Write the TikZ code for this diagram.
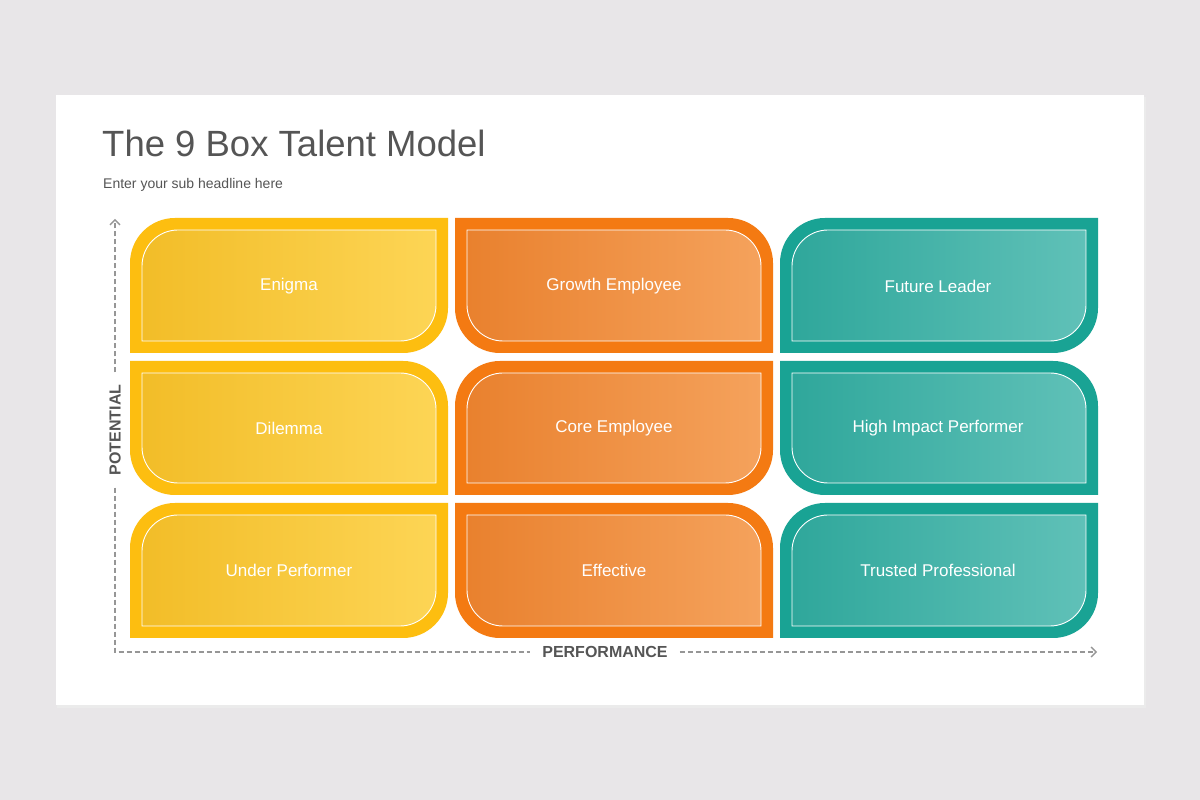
\documentclass[tikz,border=0pt]{standalone}
\usepackage{fontspec}
\setmainfont{Liberation Sans}
\usetikzlibrary{positioning,arrows.meta}
\definecolor{pagegray}{RGB}{232,230,232}
\definecolor{titlegray}{RGB}{85,85,85}
\definecolor{axisgray}{RGB}{150,150,150}
\definecolor{yelOut}{RGB}{253,190,16}
\definecolor{yelL}{RGB}{242,189,40}
\definecolor{yelR}{RGB}{253,213,85}
\definecolor{orOut}{RGB}{244,122,18}
\definecolor{orL}{RGB}{233,129,46}
\definecolor{orR}{RGB}{245,162,92}
\definecolor{teOut}{RGB}{25,163,148}
\definecolor{teL}{RGB}{47,167,155}
\definecolor{teR}{RGB}{96,193,184}

% corner shapes: A = top left and bottom right rounded, B = top right and bottom left rounded
\newcommand{\shapeA}[5]{(#1,#4-#5) arc[start angle=180,end angle=90,radius=#5] -- (#3,#4) -- (#3,#2+#5) arc[start angle=0,end angle=-90,radius=#5] -- (#1,#2) -- cycle}
\newcommand{\shapeB}[5]{(#1,#4) -- (#3-#5,#4) arc[start angle=90,end angle=0,radius=#5] -- (#3,#2) -- (#1+#5,#2) arc[start angle=270,end angle=180,radius=#5] -- cycle}
% \talentbox{A/B}{x1}{y1}{x2}{y2}{outer}{left}{right}
\newcommand{\talentbox}[8]{%
  \fill[#6] \csname shape#1\endcsname{#2}{#3}{#4}{#5}{45};
  \shade[left color=#7,right color=#8,draw=white,line width=0.9pt]
    \csname shape#1\endcsname{#2+12}{#3+12}{#4-12}{#5-12}{36};
}

\begin{document}
\begin{tikzpicture}[x=1pt,y=1pt,
    boxlabel/.style={text=white,font=\fontsize{17}{20}\selectfont},
    axislabel/.style={text=titlegray,inner sep=12pt,font=\fontsize{16}{19}\selectfont\bfseries},
    axisline/.style={axisgray,line width=1.3pt,dash pattern=on 5pt off 3pt},
    axistip/.style={-{Straight Barb[length=5pt,width=10pt]}}]
  % page and card
  \fill[pagegray] (0,0) rectangle (1200,800);
  \fill[black!8] (57,92) rectangle (1146,703);
  \fill[white] (56,95) rectangle (1144,705);

  % titles
  \node[anchor=base west,inner sep=0,text=titlegray,font=\fontsize{36.5}{44}\selectfont] (title) at (102,643) {The 9 Box Talent Model};
  \node[anchor=base west,inner sep=0,text=titlegray,font=\fontsize{14}{17}\selectfont] (sub) at (103,611) {Enter your sub headline here};

  % row 1
  \talentbox{A}{130}{447}{448}{582}{yelOut}{yelL}{yelR}
  \talentbox{B}{455}{447}{773}{582}{orOut}{orL}{orR}
  \talentbox{A}{780}{447}{1098}{582}{teOut}{teL}{teR}
  % row 2
  \talentbox{B}{130}{305}{448}{439}{yelOut}{yelL}{yelR}
  \talentbox{A}{455}{305}{773}{439}{orOut}{orL}{orR}
  \talentbox{B}{780}{305}{1098}{439}{teOut}{teL}{teR}
  % row 3
  \talentbox{A}{130}{162}{448}{297}{yelOut}{yelL}{yelR}
  \talentbox{B}{455}{162}{773}{297}{orOut}{orL}{orR}
  \talentbox{A}{780}{162}{1098}{297}{teOut}{teL}{teR}

  \node[boxlabel] (enigma) at (289,514) {Enigma};
  \node[boxlabel] (growth) at (614,514) {Growth Employee};
  \node[boxlabel] (future) at (938,514) {Future Leader};
  \node[boxlabel] (dilemma) at (289,372) {Dilemma};
  \node[boxlabel] (core) at (614,372) {Core Employee};
  \node[boxlabel] (impact) at (938,372) {High Impact Performer};
  \node[boxlabel] (under) at (289,230) {Under Performer};
  \node[boxlabel] (effective) at (614,230) {Effective};
  \node[boxlabel] (trusted) at (938,230) {Trusted Professional};

  % axes
  \node[axislabel,rotate=90] (potential) at (115,370) {POTENTIAL};
  \node[axislabel] (performance) at (605,148) {PERFORMANCE};
  \coordinate (potTop) at (115,581);
  \coordinate (origin) at (115,148);
  \coordinate (perfEnd) at (1097,148);
  \draw[axisline,axistip] (potential.east) -- (potTop);
  \draw[axisline] (potential.west) -- (origin) -- (performance.west);
  \draw[axisline,axistip] (performance.east) -- (perfEnd);
\end{tikzpicture}
\end{document}
